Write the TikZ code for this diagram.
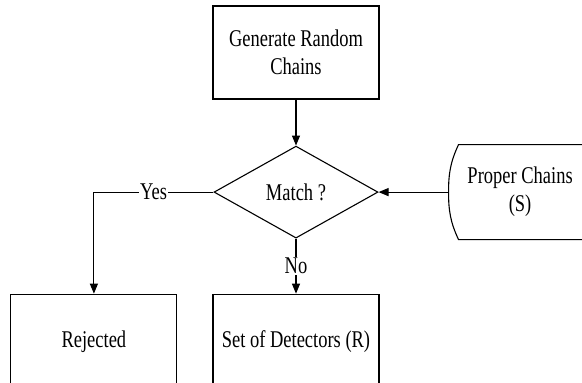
\documentclass[tikz,border=0pt]{standalone}
\usepackage{fontspec}
\setmainfont{Liberation Serif}[FakeStretch=0.77]
\usetikzlibrary{arrows.meta,positioning,shapes.geometric}

\begin{document}
\begin{tikzpicture}[x=1pt,y=1pt,font=\fontsize{24}{28}\selectfont,line width=1.1pt,
  box/.style={draw,minimum width=166pt,minimum height=93pt,align=center,inner sep=0pt},
  lowbox/.style={draw,minimum width=166pt,text height=53pt,text depth=50pt,inner sep=0pt},
  decision/.style={draw,diamond,minimum width=164pt,minimum height=92pt,inner sep=0pt},
  store/.style={minimum width=142pt,minimum height=94pt,align=center,inner sep=0pt},
  lbl/.style={fill=white,inner sep=1pt},
  flow/.style={-{Triangle[length=10pt,width=8pt]}}]
  \useasboundingbox (0,0) rectangle (582,-383);
  \node[box] (gen) at (296,-52.5) {Generate Random\\Chains};
  \node[decision,below=46pt of gen] (match) {Match ?};
  \node[store,right=70pt of match] (prop) {Proper Chains\\(S)};
  \node[lowbox,below=55pt of match] (det) {Set of Detectors (R)};
  \node[lowbox,left=35pt of det] (rej) {Rejected};
  % stored data outline, left side bent
  \draw (prop.north east) -- ([xshift=10pt]prop.north west) to[out=-115,in=90] (prop.west)
        to[out=-90,in=115] ([xshift=10pt]prop.south west) -- (prop.south east);
  \draw[flow] (gen) -- (match);
  \draw[flow] (prop.west) -- (match.east);
  \draw[flow] (match.west) -- node[lbl] {Yes} (match.west -| rej.north) -- (rej.north);
  \draw[flow] (match.south) -- node[lbl] {No} (det.north);
\end{tikzpicture}
\end{document}
